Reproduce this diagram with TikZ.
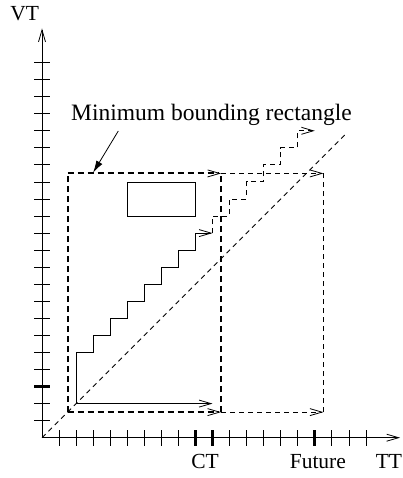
\documentclass[tikz,border=0pt]{standalone}
\usepackage{fontspec}
\setmainfont{Liberation Serif}
\usetikzlibrary{arrows.meta}
\begin{document}
\begin{tikzpicture}[x=17.05pt,y=17.05pt,
  barb/.style={-{Straight Barb[length=12pt,width=7pt,line width=0.8pt]}},
  thinline/.style={line width=0.8pt},
  boldtick/.style={line width=3pt},
  thickdash/.style={line width=2pt, dash pattern=on 6pt off 4pt},
  thindash/.style={line width=0.9pt, dash pattern=on 5pt off 4pt},
  lbl/.style={font=\fontsize{21.5}{24}\selectfont, anchor=base, inner sep=0pt}]
\useasboundingbox (-42pt,-40.3pt) rectangle (361pt,437.7pt);
% axes
\coordinate (O) at (0,0);
\coordinate (xend) at (21,0);
\coordinate (yend) at (0,24);
\draw[thinline,barb] (O) -- (xend);
\draw[thinline,barb] (O) -- (yend);
\foreach \k in {1,...,19}{
  \draw[thinline] (\k,0) ++(0pt,-8pt) -- ++(0pt,16pt);
}
\foreach \k in {9,10,16}{
  \draw[boldtick] (\k,0) ++(0pt,-8pt) -- ++(0pt,16pt);
}
\foreach \k in {1,...,22}{
  \draw[thinline] (0,\k) ++(-8pt,0pt) -- ++(16pt,0pt);
}
\draw[boldtick] (0,3) ++(-8pt,0pt) -- ++(16pt,0pt);
% labels
\node[lbl] (vt) at (-1.02,24.46) {VT};
\node[lbl] (ct) at (9.56,-1.795) {CT};
\node[lbl] (fut) at (16.18,-1.795) {Future};
\node[lbl] (tt) at (20.35,-1.795) {TT};
\node[lbl,font=\fontsize{23.5}{26}\selectfont] (mbrlbl) at (9.94,18.59) {Minimum bounding rectangle};
% rectangles
\coordinate (A) at (1.5,1.5);
\coordinate (B) at (10.5,1.5);
\coordinate (C) at (10.5,15.5);
\coordinate (D) at (1.5,15.5);
\coordinate (E) at (16.5,1.5);
\coordinate (F) at (16.5,15.5);
\draw[thindash] (O) -- (17.8,17.8);
\draw[thindash,barb] (C) -- (F);
\draw[thindash,barb] (B) -- (E);
\draw[thindash] (E) -- (F);
\draw[thickdash] (A) -- (D);
\draw[thickdash] (B) -- (C);
\draw[thickdash,barb] (D) -- (C);
\draw[thickdash,barb] (A) -- (B);
% pointer
\coordinate (pstart) at (4.475,17.99);
\coordinate (ptip) at (3.0,15.55);
\draw[thinline,-{Latex[length=12pt,width=7pt]}] (pstart) -- (ptip);
% small box
\draw[thinline] (5,13) rectangle (9,15);
% staircase
\coordinate (S) at (2,2);
\coordinate (Sx) at (10,2);
\coordinate (M) at (10,12);
\coordinate (T) at (16,18);
\draw[thinline,barb] (S) -- (Sx);
\draw[thinline,barb] (S) -- (2,5) -- (3,5) -- (3,6) -- (4,6) -- (4,7) -- (5,7) -- (5,8) -- (6,8) -- (6,9) -- (7,9) -- (7,10) -- (8,10) -- (8,11) -- (9,11) -- (9,12) -- (M);
\draw[thindash,barb] (M) -- (10,13) -- (11,13) -- (11,14) -- (12,14) -- (12,15) -- (13,15) -- (13,16) -- (14,16) -- (14,17) -- (15,17) -- (15,18) -- (T);
\end{tikzpicture}
\end{document}
